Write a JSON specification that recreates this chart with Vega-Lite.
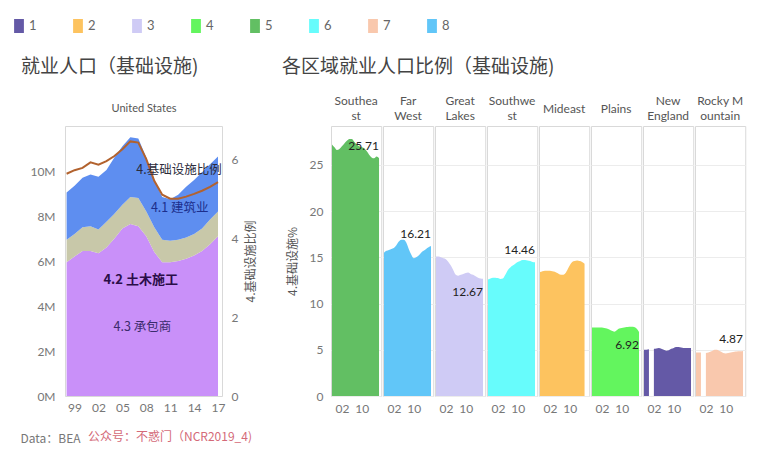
{
  "$schema": "https://vega.github.io/schema/vega-lite/v6.json",
  "padding": {"left": 12, "top": 19, "right": 5, "bottom": 8},
  "config": {
    "font": "Lato",
    "view": {"stroke": "#d9d9d9"},
    "axis": {"labelFont": "Lato", "labelColor": "#777", "labelFontSize": 12, "ticks": false, "domain": false, "titleFont": "Noto Sans CJK SC", "titleFontWeight": "normal", "titleColor": "#555", "titleFontSize": 12, "gridColor": "#ececec"},
    "header": {"labelFont": "Lato", "labelColor": "#555", "labelFontSize": 12},
    "title": {"font": "Noto Sans CJK SC", "fontWeight": "normal", "color": "#444", "fontSize": 19}
  },
  "datasets": {
    "us": [
      {"country": "United States",
       "year": [1998,1999,2000,2001,2002,2003,2004,2005,2006,2007,2008,2009,2010,2011,2012,2013,2014,2015,2016,2017],
       "contractor": [5950000,6200000,6450000,6450000,6350000,6600000,7000000,7450000,7650000,7550000,7100000,6400000,5950000,5950000,6000000,6100000,6250000,6450000,6750000,7100000],
       "civil": [1000000,1000000,1050000,1100000,1050000,1150000,1100000,1050000,1200000,1250000,1100000,1100000,1000000,950000,950000,950000,950000,1000000,1100000,1100000],
       "building": [2100000,2150000,2200000,2300000,2350000,2300000,2500000,2600000,2650000,2650000,2400000,2100000,1900000,1850000,2000000,2250000,2400000,2500000,2450000,2450000],
       "ratio": [5.63,5.72,5.78,5.92,5.86,5.95,6.08,6.25,6.45,6.42,6.0,5.45,5.1,5.0,5.0,5.05,5.12,5.2,5.3,5.42]},
      {"country": "United States", "anno": "4.基础设施比例", "ax": 2012.1, "ay": 10040000},
      {"country": "United States", "anno": "4.1 建筑业", "ax": 2012.2, "ay": 8360000},
      {"country": "United States", "anno": "4.2 土木施工", "ax": 2007.3, "ay": 5160000},
      {"country": "United States", "anno": "4.3 承包商", "ax": 2007.5, "ay": 3070000}
    ],
    "regions": [
      {"region": "Southeast", "code": "5", "year": [1998,1999,2000,2001,2002,2003,2004,2005,2006,2007,2008,2009,2010,2011,2012,2013,2014,2015,2016,2017], "pct": [27.2,26.9,26.6,26.7,27.0,27.3,27.6,27.8,27.8,27.5,27.2,27.0,26.9,26.8,26.5,26.1,25.8,25.7,25.9,25.71]},
      {"region": "Far West", "code": "8", "year": [1998,1999,2000,2001,2002,2003,2004,2005,2006,2007,2008,2009,2010,2011,2012,2013,2014,2015,2016,2017], "pct": [15.5,15.7,15.8,15.9,16.0,16.3,16.7,16.9,16.9,16.6,15.9,15.3,14.9,15.0,15.2,15.5,15.7,15.9,16.1,16.21]},
      {"region": "Great Lakes", "code": "3", "year": [1998,1999,2000,2001,2002,2003,2004,2005,2006,2007,2008,2009,2010,2011,2012,2013,2014,2015,2016,2017], "pct": [15.1,15.1,15.0,14.9,14.8,14.5,14.1,13.6,13.1,13.0,13.1,13.2,13.3,13.35,13.2,13.1,12.95,12.8,12.7,12.67]},
      {"region": "Southwest", "code": "6", "year": [1998,1999,2000,2001,2002,2003,2004,2005,2006,2007,2008,2009,2010,2011,2012,2013,2014,2015,2016,2017], "pct": [12.6,12.7,12.8,12.8,12.75,12.65,12.7,13.1,13.6,13.9,14.1,14.3,14.5,14.6,14.7,14.7,14.65,14.6,14.5,14.46]},
      {"region": "Mideast", "code": "2", "year": [1998,1999,2000,2001,2002,2003,2004,2005,2006,2007,2008,2009,2010,2011,2012,2013,2014,2015,2016], "pct": [13.4,13.5,13.55,13.55,13.55,13.5,13.45,13.3,13.15,13.1,13.2,13.6,14.1,14.5,14.6,14.65,14.6,14.5,14.3]},
      {"region": "Plains", "code": "4", "year": [1998,1999,2000,2001,2002,2003,2004,2005,2006,2007,2008,2009,2010,2011,2012,2013,2014,2015,2016,2017], "pct": [7.4,7.4,7.4,7.4,7.4,7.35,7.3,7.2,7.05,6.95,7.1,7.3,7.35,7.4,7.45,7.5,7.5,7.45,7.3,6.92]},
      {"region": "New England", "code": "1", "year": [1998,1999,2000,2001,2002,2003,2004,2005,2006,2007,2008,2009,2010,2011,2012,2013,2014,2015,2016,2017], "pct": [5.0,5.0,5.05,null,5.1,5.15,5.2,5.1,5.0,4.9,4.95,5.1,5.2,5.3,5.3,5.25,5.2,5.2,5.2,5.2]},
      {"region": "Rocky Mountain", "code": "7", "year": [1998,1999,2000,2001,2002,2003,2004,2005,2006,2007,2008,2009,2010,2011,2012,2013,2014,2015,2016,2017], "pct": [4.7,4.7,4.7,null,4.65,4.7,4.8,4.95,5.0,4.95,4.8,4.65,4.6,4.65,4.7,4.75,4.8,4.85,4.85,4.87]}
    ]
  },
  "title": {"text": "公众号：不惑门（NCR2019_4)", "orient": "bottom", "anchor": "start", "fontSize": 12, "color": "#d46a78", "dx": 76, "dy": -17},
  "vconcat": [
    {
      "title": {"text": "Data：BEA", "orient": "bottom", "anchor": "start", "fontSize": 12, "color": "#777", "offset": 20},
      "spacing": 24,
      "hconcat": [
        {
          "data": {"name": "us"},
          "title": {"text": "就业人口（基础设施)", "anchor": "start", "dx": -9, "offset": 25},
          "width": 157,
          "height": 270,
          "layer": [
            {
              "transform": [{"filter": "isArray(datum.year)"}, {"flatten": ["year", "contractor", "civil", "building", "ratio"]}, {"fold": ["contractor", "civil", "building"], "as": ["series", "value"]}],
              "mark": {"type": "area"},
              "encoding": {
                "x": {"field": "year", "type": "quantitative", "scale": {"domain": [1997.8, 2017.5], "nice": false, "zero": false}, "axis": {"values": [1999, 2002, 2005, 2008, 2011, 2014, 2017], "labelExpr": "substring(toString(datum.value), 2, 4)", "title": null, "grid": false, "labelPadding": 6}},
                "y": {"field": "value", "type": "quantitative", "stack": "zero", "scale": {"domain": [0, 12000000], "nice": false}, "axis": {"values": [0, 2000000, 4000000, 6000000, 8000000, 10000000], "labelExpr": "format(datum.value / 1000000, 'd') + 'M'", "title": null, "grid": false, "labelPadding": 10}},
                "fill": {"field": "series", "type": "nominal", "scale": {"domain": ["building", "civil", "contractor"], "range": ["#5e8ef0", "#c8c8a9", "#c990f9"]}, "legend": null},
                "order": {"field": "series", "sort": "descending"}
              }
            },
            {
              "transform": [{"filter": "isArray(datum.year)"}, {"flatten": ["year", "ratio"]}],
              "mark": {"type": "line", "color": "#b2622e", "strokeWidth": 2},
              "encoding": {
                "x": {"field": "year", "type": "quantitative", "axis": {"orient": "top", "labels": false, "grid": false, "title": "United States", "titleFont": "Lato", "titleFontSize": 11, "titleColor": "#555", "titlePadding": 13}},
                "y": {"field": "ratio", "type": "quantitative", "scale": {"domain": [0, 6.84], "nice": false, "zero": true}, "axis": {"orient": "right", "values": [0, 2, 4, 6], "title": "4.基础设施比例", "titleAngle": 270, "titleBaseline": "top", "titlePadding": 8, "grid": false, "labelPadding": 9}}
              }
            },
            {
              "transform": [{"filter": "datum.anno != null && datum.anno != '4.2 土木施工'"}],
              "mark": {"type": "text", "fontSize": 12.5, "font": "Noto Sans CJK SC", "baseline": "middle"},
              "encoding": {
                "x": {"field": "ax", "type": "quantitative", "axis": null},
                "y": {"field": "ay", "type": "quantitative", "scale": {"domain": [0, 12000000], "nice": false}, "axis": null},
                "text": {"field": "anno"},
                "fill": {"field": "anno", "type": "nominal", "scale": {"domain": ["4.基础设施比例", "4.1 建筑业", "4.3 承包商"], "range": ["#2b2b3b", "#1c2e8c", "#3b2c6c"]}, "legend": null}
              }
            },
            {
              "transform": [{"filter": "datum.anno == '4.2 土木施工'"}],
              "mark": {"type": "text", "fontSize": 13, "font": "Noto Sans CJK SC", "fontWeight": "bold", "baseline": "middle", "color": "#2a0d48"},
              "encoding": {
                "x": {"field": "ax", "type": "quantitative", "axis": null},
                "y": {"field": "ay", "type": "quantitative", "scale": {"domain": [0, 12000000], "nice": false}, "axis": null},
                "text": {"field": "anno"}
              }
            }
          ],
          "resolve": {"scale": {"y": "independent", "fill": "independent"}, "axis": {"x": "independent"}}
        },
        {
          "data": {"name": "regions"},
          "title": {"text": "各区域就业人口比例（基础设施)", "anchor": "start", "dx": -4, "offset": 18},
          "spacing": 0,
          "facet": {"column": {"field": "region", "type": "nominal", "title": null, "sort": ["Southeast", "Far West", "Great Lakes", "Southwest", "Mideast", "Plains", "New England", "Rocky Mountain"],
            "header": {"labelPadding": -3, "labelBaseline": "middle", "labelLineHeight": 7.5,
              "labelExpr": "datum.value == 'Southeast' ? ['Southea', '\u200b', 'st'] : datum.value == 'Far West' ? ['Far', '\u200b', 'West'] : datum.value == 'Great Lakes' ? ['Great', '\u200b', 'Lakes'] : datum.value == 'Southwest' ? ['Southwe', '\u200b', 'st'] : datum.value == 'New England' ? ['New', '\u200b', 'England'] : datum.value == 'Rocky Mountain' ? ['Rocky M', '\u200b', 'ountain'] : ['\u200b', datum.value, '\u200b']"}}},
          "spec": {
            "width": 50.25,
            "height": 270,
            "layer": [
              {
                "transform": [{"flatten": ["year", "pct"]}],
                "mark": {"type": "area", "interpolate": "monotone"},
                "encoding": {
                  "x": {"field": "year", "type": "quantitative", "scale": {"domain": [1997.6, 2017.9], "nice": false, "zero": false}, "axis": {"values": [2002, 2010], "labelExpr": "substring(toString(datum.value), 2, 4)", "title": null, "grid": false, "labelPadding": 6}},
                  "y": {"field": "pct", "type": "quantitative", "stack": null, "scale": {"domain": [0, 29.2], "nice": false}, "axis": {"values": [0, 5, 10, 15, 20, 25], "title": "4.基础设施%", "titlePadding": 10, "labelPadding": 7, "grid": true}},
                  "color": {"field": "code", "type": "nominal", "scale": {"domain": ["1", "2", "3", "4", "5", "6", "7", "8"], "range": ["#6459a6", "#fdc35f", "#cfcbf5", "#63f55e", "#62bf63", "#67fcfc", "#f9c8ad", "#61c6f8"]},
                    "legend": {"title": null, "orient": "none", "legendX": -53, "legendY": -107, "direction": "horizontal", "columns": 8, "columnPadding": 34, "symbolType": "M-0.7,-1H0.7V1H-0.7Z", "symbolSize": 196, "symbolStrokeWidth": 0, "labelFontSize": 13, "labelColor": "#666", "labelOffset": 3}}
                }
              },
              {
                "transform": [{"flatten": ["year", "pct"]}, {"filter": "datum.year == 2017 && (datum.region == 'Southeast' || datum.region == 'Far West' || datum.region == 'Southwest' || datum.region == 'Rocky Mountain')"}],
                "mark": {"type": "text", "align": "right", "baseline": "middle", "dy": -12, "fontSize": 12, "color": "#222"},
                "encoding": {
                  "x": {"field": "year", "type": "quantitative"},
                  "y": {"field": "pct", "type": "quantitative"},
                  "text": {"field": "pct", "format": ".2f"}
                }
              },
              {
                "transform": [{"flatten": ["year", "pct"]}, {"filter": "datum.year == 2017 && (datum.region == 'Great Lakes' || datum.region == 'Plains')"}],
                "mark": {"type": "text", "align": "right", "baseline": "middle", "dy": 13, "fontSize": 12, "color": "#222"},
                "encoding": {
                  "x": {"field": "year", "type": "quantitative"},
                  "y": {"field": "pct", "type": "quantitative"},
                  "text": {"field": "pct", "format": ".2f"}
                }
              }
            ]
          }
        }
      ]
    }
  ]
}
